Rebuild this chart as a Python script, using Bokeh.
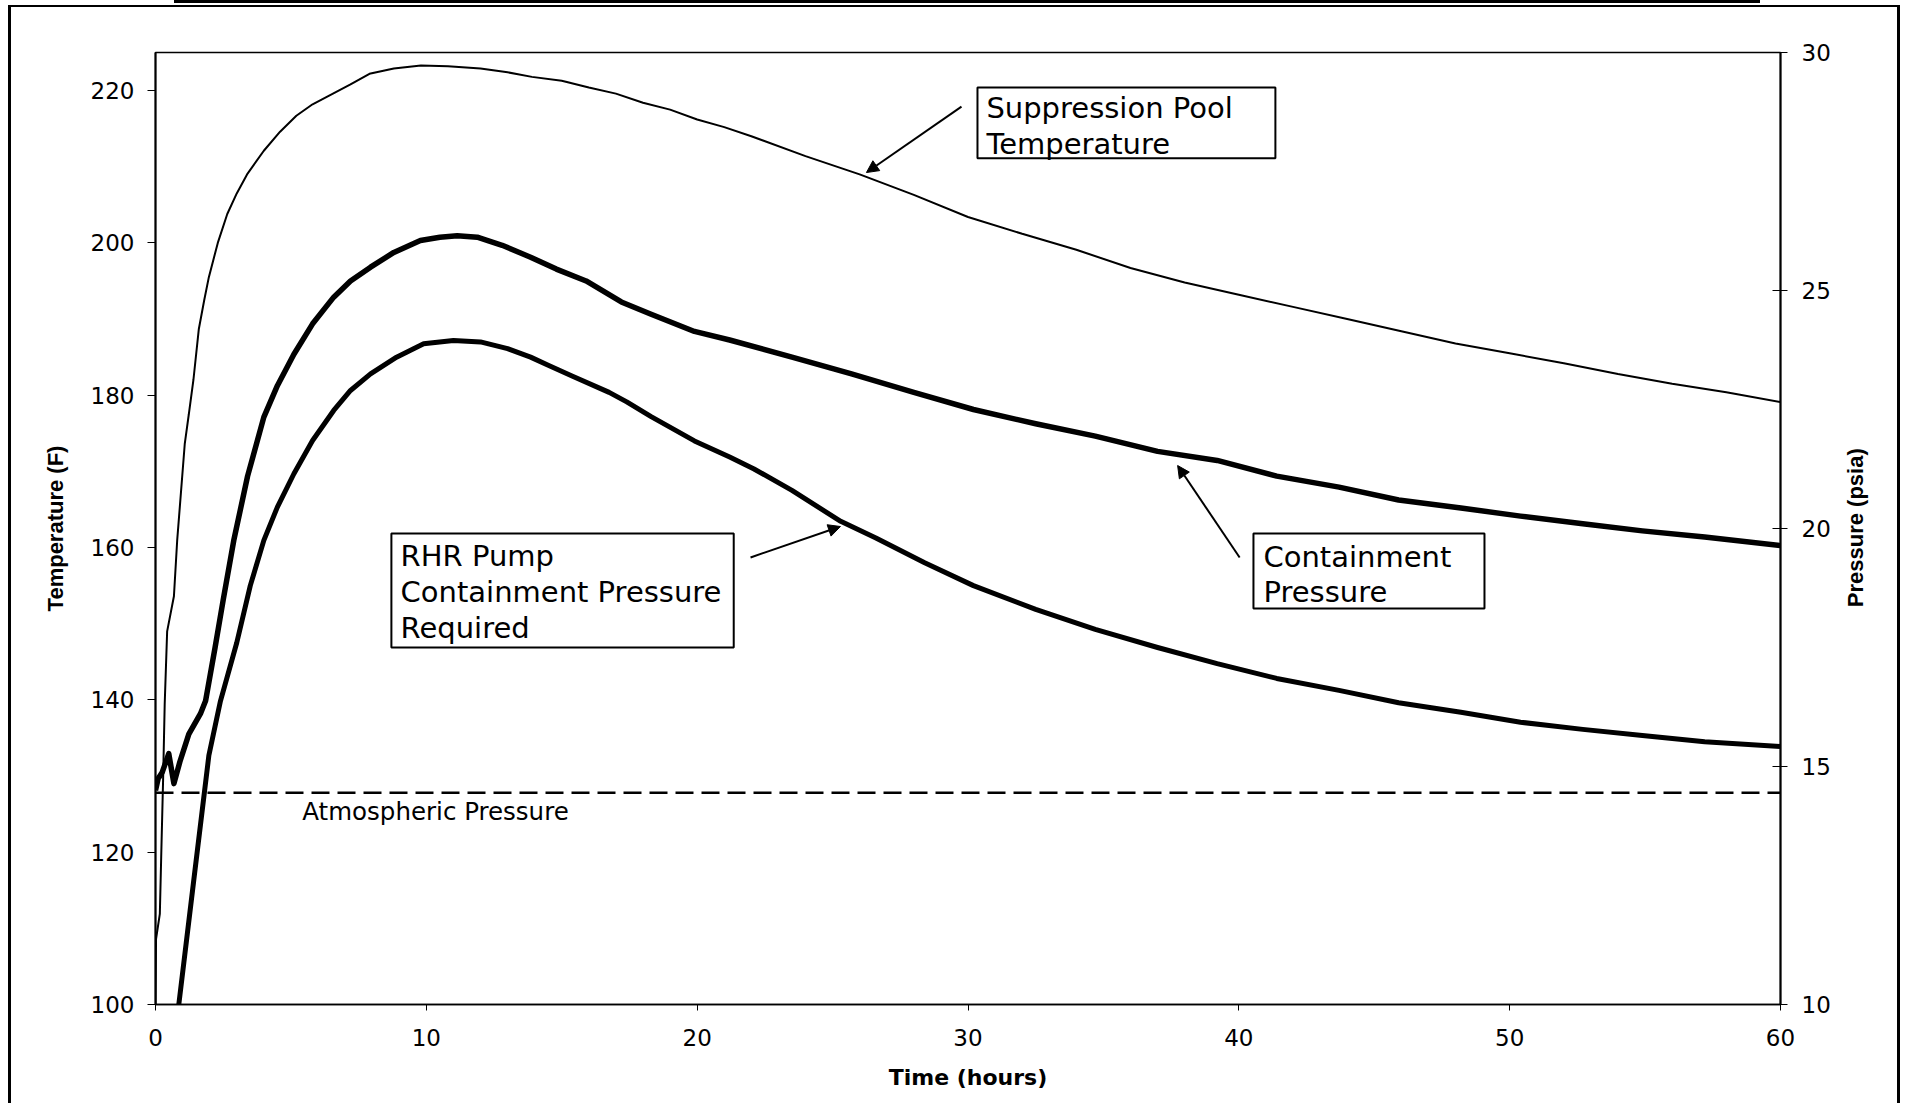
import math
from bokeh.plotting import figure
from bokeh.layouts import column
from bokeh.models import (Range1d, LinearAxis, FixedTicker, Label, Arrow, NormalHead,
                          BoxAnnotation, Div)
from bokeh.embed import file_html
from bokeh.resources import INLINE

# ---------------- data ----------------
time_ticks = [0, 10, 20, 30, 40, 50, 60]
temp_ticks = [100, 120, 140, 160, 180, 200, 220]
press_ticks = [10, 15, 20, 25, 30]

pool_time = [0, 0.02, 0.16, 0.21, 0.28, 0.34, 0.43, 0.68, 0.8, 1.08, 1.23, 1.4, 1.6, 1.8, 1.97,
             2.3, 2.65, 3.0, 3.4, 4.0, 4.6, 5.2, 5.8, 6.5, 7.2, 7.9, 8.8, 9.8, 10.8, 12.0, 13.0,
             13.9, 15, 16, 17, 18, 19, 20, 21, 22, 24, 26, 28, 30, 32, 34, 36, 38, 40, 42, 44,
             46, 48, 50, 52, 54, 56, 58, 60]
pool_temp = [100, 108.6, 111.9, 119.3, 129.4, 139.5, 149, 153.6, 160.9, 173.6, 177.5, 182, 188.7,
             192.5, 195.5, 200, 203.8, 206.5, 209.1, 212.1, 214.6, 216.7, 218.2, 219.5, 220.8,
             222.2, 222.9, 223.3, 223.2, 222.9, 222.4, 221.8, 221.3, 220.4, 219.6, 218.4, 217.5,
             216.2, 215.2, 214, 211.4, 209, 206.3, 203.4, 201.2, 199.1, 196.7, 194.8, 193.2,
             191.6, 190, 188.4, 186.8, 185.5, 184.2, 182.8, 181.5, 180.4, 179.1]

cont_time = [0, 0.1, 0.25, 0.49, 0.68, 0.9, 1.23, 1.66, 1.85, 2.2, 2.5, 2.89, 3.4, 4.0, 4.5,
             5.11, 5.8, 6.58, 7.2, 7.94, 8.8, 9.78, 10.5, 11.14, 11.88, 12.8, 13.85, 14.8, 15.9,
             17.2, 18.3, 19.9, 21.2, 23.5, 25.7, 28, 30.2, 32.5, 34.7, 37, 39.2, 41.4, 43.7,
             45.9, 48.2, 50.4, 52.7, 54.9, 57.2, 60]
cont_press = [14.5, 14.75, 14.88, 15.27, 14.64, 15.1, 15.68, 16.11, 16.38, 17.5, 18.5, 19.75,
              21.1, 22.34, 23.0, 23.66, 24.3, 24.86, 25.2, 25.49, 25.8, 26.05, 26.12, 26.15,
              26.12, 25.95, 25.7, 25.45, 25.2, 24.76, 24.5, 24.14, 23.96, 23.6, 23.25, 22.86,
              22.5, 22.2, 21.94, 21.62, 21.43, 21.1, 20.87, 20.6, 20.43, 20.26, 20.1, 19.95,
              19.82, 19.64]

rhr_time = [0.86, 1.4, 1.97, 2.4, 3.0, 3.5, 4.0, 4.5, 5.11, 5.8, 6.58, 7.2, 7.94, 8.9, 9.9,
            11.0, 12.0, 13.0, 13.85, 14.5, 15.4, 16.75, 17.4, 18.3, 19.9, 21.2, 22.1, 23.5,
            25.3, 26.6, 28.4, 30.2, 32.5, 34.7, 37, 39.2, 41.4, 43.7, 45.9, 48.2, 50.4, 52.7,
            54.9, 57.2, 60]
rhr_press = [10, 12.55, 15.23, 16.38, 17.6, 18.8, 19.75, 20.45, 21.15, 21.85, 22.48, 22.9,
             23.25, 23.6, 23.88, 23.95, 23.92, 23.78, 23.6, 23.43, 23.2, 22.86, 22.66, 22.35,
             21.84, 21.5, 21.25, 20.8, 20.15, 19.8, 19.28, 18.8, 18.3, 17.88, 17.5, 17.16,
             16.85, 16.6, 16.34, 16.14, 15.93, 15.78, 15.65, 15.52, 15.42]

atm_time = [0, 60]
atm_press = [14.45, 14.45]

# ---------------- figure ----------------
TICK_FONT = "DejaVu Sans"
ANN_FONT = "DejaVu Sans"

p = figure(width=1892, height=1098, x_range=Range1d(0, 60), y_range=Range1d(100, 225),
           output_backend="svg", toolbar_location=None,
           min_border_left=144, min_border_right=123, min_border_top=45, min_border_bottom=101)
p.styles = {"margin-left": "8px", "margin-top": "2px",
            "border-left": "3px solid black", "border-right": "3px solid black",
            "border-top": "2px solid black"}
p.extra_y_ranges = {"press": Range1d(10, 30)}
p.grid.visible = False
p.outline_line_color = "black"
p.outline_line_width = 1.5
p.background_fill_color = "white"
p.border_fill_color = "white"

# bottom axis
xa = p.xaxis[0]
xa.ticker = FixedTicker(ticks=time_ticks)
xa.axis_label = "Time (hours)"
xa.axis_label_text_font = "DejaVu Sans"
xa.axis_label_text_font_style = "bold"
xa.axis_label_text_font_size = "22px"
xa.axis_label_text_color = "black"
xa.axis_label_standoff = 16
xa.major_label_text_font = TICK_FONT
xa.major_label_text_font_size = "23px"
xa.major_label_text_color = "black"
xa.major_label_standoff = 18
xa.major_tick_out = 6
xa.major_tick_in = 0
xa.minor_tick_line_color = None
xa.axis_line_width = 1.5
xa.axis_line_color = "black"
xa.major_tick_line_color = "black"

# left axis
ya = p.yaxis[0]
ya.ticker = FixedTicker(ticks=temp_ticks)
ya.axis_label = "Temperature (F)"
ya.axis_label_text_font = "Liberation Sans"
ya.axis_label_text_font_style = "bold"
ya.axis_label_text_font_size = "22px"
ya.axis_label_text_color = "black"
ya.axis_label_standoff = 20
ya.major_label_text_font = TICK_FONT
ya.major_label_text_font_size = "23px"
ya.major_label_text_color = "black"
ya.major_label_standoff = 13
ya.major_tick_out = 8
ya.major_tick_in = 0
ya.minor_tick_line_color = None
ya.axis_line_width = 2
ya.axis_line_color = "black"
ya.major_tick_line_color = "black"

# right axis (ticks)
ax2 = LinearAxis(y_range_name="press", ticker=FixedTicker(ticks=press_ticks))
ax2.major_label_text_font = TICK_FONT
ax2.major_label_text_font_size = "23px"
ax2.major_label_text_color = "black"
ax2.major_label_standoff = 14
ax2.major_tick_out = 7
ax2.major_tick_in = 8
ax2.minor_tick_line_color = None
ax2.axis_line_width = 2
ax2.axis_line_color = "black"
ax2.major_tick_line_color = "black"
p.add_layout(ax2, "right")

# right axis title (bare axis that only carries the label, reading bottom-to-top)
ax3 = LinearAxis(y_range_name="press", ticker=FixedTicker(ticks=[]))
ax3.axis_line_color = None
ax3.major_tick_line_color = None
ax3.minor_tick_line_color = None
ax3.major_tick_out = 0
ax3.major_tick_in = 0
ax3.axis_label_text_font = "Liberation Sans"
ax3.axis_label_text_font_style = "bold"
ax3.axis_label_text_font_size = "22px"
ax3.axis_label_text_color = "black"
ax3.axis_label_standoff = 22
if "axis_label_orientation" in ax3.properties() and "axis_label_align" in ax3.properties():
    ax3.axis_label_orientation = math.pi / 2
    ax3.axis_label_align = "start"
    ax3.axis_label = "\u00a0" * 65 + "Pressure (psia)"
else:
    ax3.axis_label = "Pressure (psia)"
p.add_layout(ax3, "right")

# ---------------- lines ----------------
p.line(atm_time, atm_press, y_range_name="press", line_color="black", line_width=2.5,
       line_dash="18 8")
p.line(pool_time, pool_temp, line_color="black", line_width=2)
p.line(cont_time, cont_press, y_range_name="press", line_color="black", line_width=5.5,
       line_join="round")
p.line(rhr_time, rhr_press, y_range_name="press", line_color="black", line_width=5,
       line_join="round")

# ---------------- annotations ----------------
def box(l, r, t, b):
    p.add_layout(BoxAnnotation(left=l, right=r, top=t, bottom=b, fill_alpha=0,
                               line_color="black", line_alpha=1.0, line_width=2))

def txt(x, y, s, size="29px"):
    p.add_layout(Label(x=x, y=y, text=s, text_font=ANN_FONT, text_font_size=size,
                       text_baseline="alphabetic", text_align="left", text_color="black"))

def arrow(x0, y0, x1, y1):
    p.add_layout(Arrow(x_start=x0, y_start=y0, x_end=x1, y_end=y1, line_width=2,
                       line_color="black",
                       end=NormalHead(size=12, fill_color="black", line_color="black")))

# Suppression Pool Temperature
box(30.35, 41.35, 220.4, 211.1)
txt(30.68, 217.75, "Suppression Pool")
txt(30.68, 213.05, "Temperature")
arrow(29.76, 217.9, 26.25, 209.24)

# Containment Pressure
box(40.54, 49.07, 161.84, 152.0)
txt(40.91, 158.7, "Containment")
txt(40.91, 154.1, "Pressure")
arrow(40.03, 158.7, 37.74, 170.77)

# RHR Pump Containment Pressure Required
box(8.71, 21.35, 161.84, 146.87)
txt(9.05, 158.9, "RHR Pump")
txt(9.05, 154.2, "Containment Pressure")
txt(9.05, 149.5, "Required")
arrow(21.97, 158.7, 25.29, 162.76)

# Atmospheric pressure label
txt(5.42, 125.4, "Atmospheric Pressure", size="24.5px")

# scan bar above the frame
bar = Div(text="", width=1586, height=3, margin=(0, 0, 0, 174),
          styles={"background-color": "black", "overflow": "hidden"})

layout = column(bar, p, spacing=0)
open("out.html", "w").write(file_html(layout, INLINE))
